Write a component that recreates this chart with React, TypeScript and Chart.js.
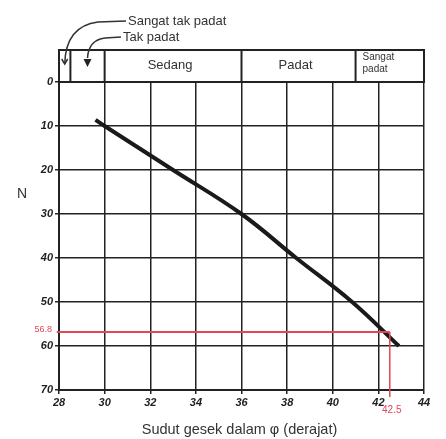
import React, { useEffect, useRef } from "react";
import { Chart, registerables } from "chart.js";

Chart.register(...registerables);

// Curve: friction angle (deg) vs SPT N
const phiValues = [29.6, 30, 33, 36, 38.4, 40.85, 42.9];
const nValues = [8.6, 10, 20, 30, 40, 50, 60];

// Red reading
const readN = 56.8;
const readPhi = 42.5;

// Density classes (phi boundaries)
const classBounds = [28, 28.5, 30, 36, 41, 44];
const classNames = ["", "", "Sedang", "Padat", "Sangat padat"];

const xTitle = "Sudut gesek dalam φ (derajat)";
const yTitle = "N";

const INK = "#222";
const RED = "rgb(225,70,90)";

const headerPlugin = {
  id: "header",
  afterDraw(chart: any) {
    const ctx = chart.ctx;
    const xs = chart.scales.x;
    const ys = chart.scales.y;
    const area = chart.chartArea;
    const bottom = area.top;
    const top = area.top - 32;
    ctx.save();
    ctx.strokeStyle = INK;
    ctx.lineWidth = 2;
    const left = xs.getPixelForValue(classBounds[0]);
    const right = xs.getPixelForValue(classBounds[classBounds.length - 1]);
    ctx.strokeRect(left, top, right - left, bottom - top);
    for (let i = 1; i < classBounds.length - 1; i++) {
      const px = xs.getPixelForValue(classBounds[i]);
      ctx.beginPath();
      ctx.moveTo(px, top);
      ctx.lineTo(px, bottom);
      ctx.stroke();
    }
    ctx.fillStyle = "#333";
    ctx.textBaseline = "middle";
    for (let i = 0; i < classNames.length; i++) {
      const name = classNames[i];
      if (!name) continue;
      const a = xs.getPixelForValue(classBounds[i]);
      const b = xs.getPixelForValue(classBounds[i + 1]);
      if (name === "Sangat padat") {
        ctx.font = "10px 'Liberation Sans', Arial, sans-serif";
        ctx.textAlign = "left";
        ctx.fillText("Sangat", a + 7, top + 7);
        ctx.fillText("padat", a + 7, top + 19);
      } else {
        ctx.font = "13px 'Liberation Sans', Arial, sans-serif";
        ctx.textAlign = "center";
        ctx.fillText(name, (a + b) / 2 - 3, (top + bottom) / 2 - 1);
      }
    }
    // Callout labels
    ctx.font = "13px 'Liberation Sans', Arial, sans-serif";
    ctx.textAlign = "left";
    ctx.fillText("Sangat tak padat", 128, 21);
    ctx.fillText("Tak padat", 123, 37);
    ctx.strokeStyle = "#333";
    ctx.lineWidth = 1.5;
    const x1 = (xs.getPixelForValue(classBounds[0]) + xs.getPixelForValue(classBounds[1])) / 2;
    const x2 = (xs.getPixelForValue(classBounds[1]) + xs.getPixelForValue(classBounds[2])) / 2;
    ctx.beginPath();
    ctx.moveTo(126, 21);
    ctx.lineTo(98, 22);
    ctx.quadraticCurveTo(x1 + 1, 26, x1, top + 14);
    ctx.stroke();
    ctx.beginPath();
    ctx.moveTo(x1 - 3, top + 9);
    ctx.lineTo(x1, top + 14);
    ctx.lineTo(x1 + 3, top + 9);
    ctx.stroke();
    ctx.beginPath();
    ctx.moveTo(121, 37);
    ctx.lineTo(105, 38);
    ctx.quadraticCurveTo(x2 + 1, 40, x2, top + 8);
    ctx.stroke();
    ctx.fillStyle = "#222";
    ctx.beginPath();
    ctx.moveTo(x2 - 4, top + 9);
    ctx.lineTo(x2 + 4, top + 9);
    ctx.lineTo(x2, top + 17);
    ctx.closePath();
    ctx.fill();

    // Axis titles
    ctx.fillStyle = "#333";
    ctx.font = "14px 'Liberation Sans', Arial, sans-serif";
    ctx.textAlign = "center";
    ctx.fillText(yTitle, 22, ys.getPixelForValue(25.5));
    ctx.font = "14.5px 'Liberation Sans', Arial, sans-serif";
    ctx.fillText(xTitle, (area.left + area.right) / 2 - 2, area.bottom + 40);

    // Red reading labels
    ctx.fillStyle = RED;
    ctx.font = "9px 'Liberation Sans', Arial, sans-serif";
    ctx.textAlign = "right";
    ctx.fillText(String(readN), area.left - 7, ys.getPixelForValue(readN) - 2);
    ctx.textAlign = "center";
    ctx.font = "10px 'Liberation Sans', Arial, sans-serif";
    ctx.fillText(String(readPhi), xs.getPixelForValue(readPhi) + 2, area.bottom + 20);
    ctx.restore();
  },
};

export default function App() {
  const ref = useRef<HTMLCanvasElement | null>(null);
  useEffect(() => {
    if (!ref.current) return;
    const chart = new Chart(ref.current, {
      type: "scatter",
      data: {
        datasets: [
          {
            data: [
              { x: 27.9, y: readN },
              { x: readPhi, y: readN },
            ],
            showLine: true,
            borderColor: RED,
            borderWidth: 2,
            pointRadius: 0,
            clip: false as any,
          },
          {
            data: [
              { x: readPhi, y: readN },
              { x: readPhi, y: 71.6 },
            ],
            showLine: true,
            borderColor: RED,
            borderWidth: 1.5,
            pointRadius: 0,
            clip: false as any,
          },
          {
            data: phiValues.map((p, i) => ({ x: p, y: nValues[i] })),
            showLine: true,
            borderColor: "#1a1a1a",
            borderWidth: 4,
            pointRadius: 0,
            tension: 0.4,
          },
        ],
      },
      options: {
        animation: false,
        responsive: false,
        devicePixelRatio: 1,
        layout: { padding: { top: 82, right: 22, left: 0, bottom: 0 } },
        plugins: { legend: { display: false }, tooltip: { enabled: false } },
        scales: {
          x: {
            type: "linear",
            min: 28,
            max: 44,
            ticks: {
              stepSize: 2,
              color: INK,
              padding: 2,
              font: { family: "'Liberation Sans', Arial, sans-serif", size: 11, style: "italic", weight: "bold" },
            },
            grid: { color: INK, lineWidth: 1.5, tickLength: 4 },
            border: { color: INK, width: 2 },
            afterFit: (s: any) => {
              s.height = 49;
            },
          },
          y: {
            type: "linear",
            min: 0,
            max: 70,
            reverse: true,
            ticks: {
              stepSize: 10,
              color: INK,
              padding: 2,
              font: { family: "'Liberation Sans', Arial, sans-serif", size: 11, style: "italic", weight: "bold" },
            },
            grid: { color: INK, lineWidth: 1.5, tickLength: 4 },
            border: { color: INK, width: 2 },
            afterFit: (s: any) => {
              s.width = 59;
            },
          },
        },
      },
      plugins: [headerPlugin],
    });
    return () => chart.destroy();
  }, []);
  return (
    <div style={{ position: "absolute", left: 0, top: 0, width: 446, height: 439, background: "#fff" }}>
      <canvas ref={ref} width={446} height={439} style={{ width: 446, height: 439 }} />
    </div>
  );
}
